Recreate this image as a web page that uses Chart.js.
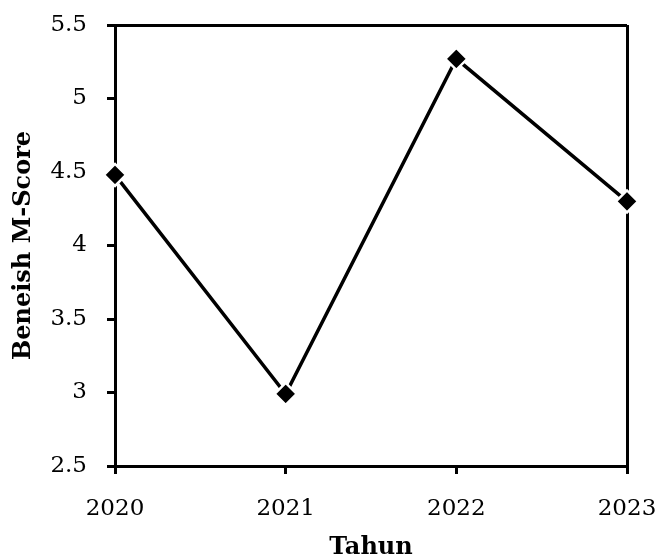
<!DOCTYPE html>
<html>
<head>
<meta charset="utf-8">
<script src="https://cdn.jsdelivr.net/npm/chart.js@4"></script>
<style>
  html, body { margin: 0; padding: 0; background: #fff; }
  #wrap { width: 656px; height: 558px; }
</style>
</head>
<body>
<div id="wrap"><canvas id="c" width="656" height="558"></canvas></div>
<script>
// Beneish M-Score per year
const years = ['2020', '2021', '2022', '2023'];
const mScore = [4.48, 2.99, 5.27, 4.30];
const yMin = 2.5;
const yMax = 5.5;
const yStep = 0.5;

const FONT = "'DejaVu Serif', 'Liberation Serif', serif";

new Chart(document.getElementById('c'), {
  type: 'line',
  data: {
    labels: years,
    datasets: [{
      data: mScore,
      borderColor: '#000',
      borderWidth: 3.5,
      tension: 0,
      pointStyle: 'rectRot',
      pointRadius: 11,
      pointHoverRadius: 11,
      pointBackgroundColor: '#000',
      pointBorderColor: '#fff',
      pointBorderWidth: 2.5,
      clip: false
    }]
  },
  options: {
    responsive: false,
    animation: false,
    events: [],
    layout: { padding: 0 },
    plugins: { legend: { display: false }, tooltip: { enabled: false } },
    scales: {
      x: {
        type: 'category',
        offset: false,
        afterFit: s => { s.height = 92; s.paddingLeft = 0; s.paddingRight = 29; },
        border: { display: true, color: '#000', width: 3 },
        grid: {
          offset: false,
          drawOnChartArea: true,
          color: c => (c.index === years.length - 1 ? '#000' : 'rgba(0,0,0,0)'),
          lineWidth: 3,
          tickColor: '#000',
          tickWidth: 3,
          tickLength: 8
        },
        ticks: {
          color: '#000',
          font: { family: FONT, size: 23 },
          padding: 21,
          maxRotation: 0
        },
        title: {
          display: true,
          text: 'Tahun',
          color: '#000',
          font: { family: FONT, size: 24, weight: 'bold', lineHeight: 0.85 },
          padding: { top: 0, bottom: 0 }
        }
      },
      y: {
        min: yMin,
        max: yMax,
        afterFit: s => { s.width = 115; s.paddingTop = 25; s.paddingBottom = 0; },
        border: { display: true, color: '#000', width: 3 },
        grid: {
          color: c => (c.tick && c.tick.value === yMax ? '#000' : 'rgba(0,0,0,0)'),
          lineWidth: 3,
          tickColor: '#000',
          tickWidth: 3,
          tickLength: 8
        },
        ticks: {
          stepSize: yStep,
          color: '#000',
          font: { family: FONT, size: 23 },
          padding: 20,
          callback: v => String(Math.round(v * 10) / 10)
        },
        title: {
          display: true,
          text: 'Beneish M-Score',
          color: '#000',
          font: { family: FONT, size: 24, weight: 'bold', lineHeight: 1 },
          padding: { top: 12, bottom: 0 }
        }
      }
    }
  }
});
</script>
</body>
</html>
